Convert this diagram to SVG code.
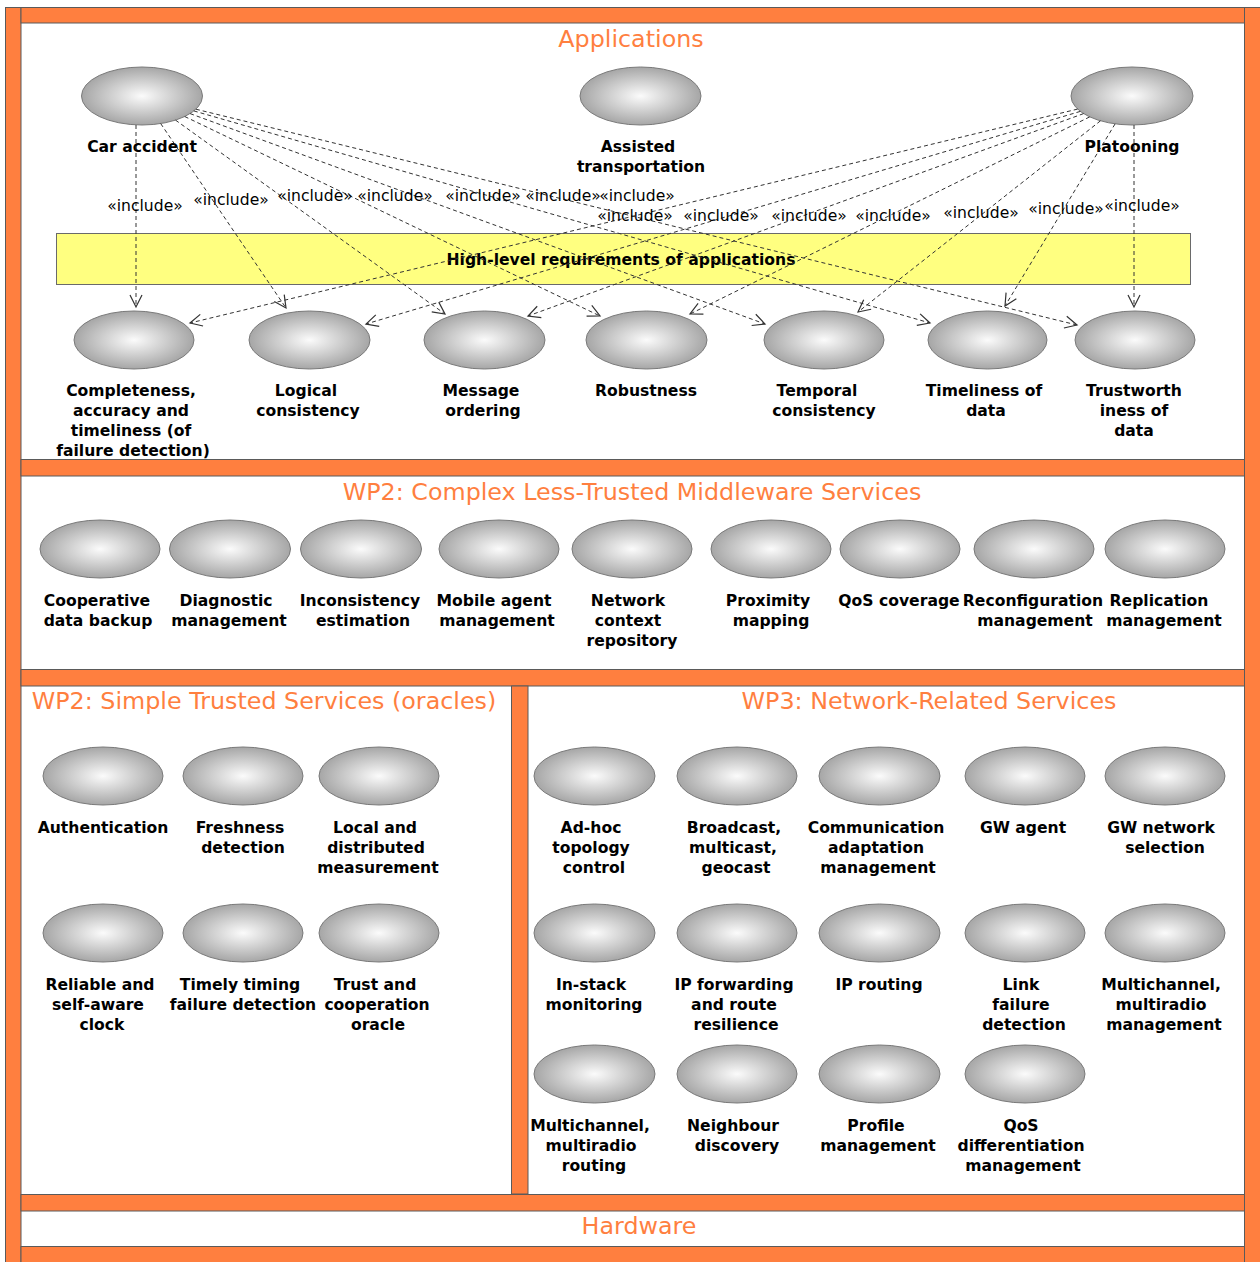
<svg xmlns="http://www.w3.org/2000/svg" width="1260" height="1262" viewBox="0 0 1260 1262">
  <style>
    .bar { fill: #FF7F3F; stroke: #5a5a5a; stroke-width: 1; }
    .title { font-family: "DejaVu Sans", sans-serif; font-size: 23.8px; fill: #FF7F3F; text-anchor: middle; }
    .uc { fill: url(#ucFill); stroke: #7a7a7a; stroke-width: 1; }
    .lbl { font-family: "DejaVu Sans", sans-serif; font-weight: bold; font-size: 15.6px; fill: #000; text-anchor: middle; }
    .inc { font-family: "DejaVu Sans", sans-serif; font-size: 15.6px; fill: #000; text-anchor: middle; }
    .dep { fill: none; stroke: #333; stroke-width: 1; stroke-dasharray: 4 3; marker-end: url(#openArrow); }
  </style>
  <defs>
    <radialGradient id="ucFill" cx="0.5" cy="0.5" r="0.5">
      <stop offset="0" stop-color="#fbfbfb"/>
      <stop offset="1" stop-color="#a6a6a6"/>
    </radialGradient>
    <marker id="openArrow" markerUnits="userSpaceOnUse" markerWidth="14" markerHeight="14" refX="12" refY="6" orient="auto" overflow="visible">
      <path d="M0,0 L12,6 L0,12" fill="none" stroke="#333" stroke-width="1.2" stroke-dasharray="none"/>
    </marker>
  </defs>

  <rect width="1260" height="1262" fill="#fff"/>

  <!-- frame bars -->
  <g id="frame">
    <rect class="bar" x="5.5" y="7.5" width="15.5" height="1260"/>
    <rect class="bar" x="1244.5" y="7.5" width="20" height="1260"/>
    <rect class="bar" x="21" y="7.5" width="1223.5" height="15.5"/>
    <rect class="bar" x="21" y="459.5" width="1223.5" height="16.5"/>
    <rect class="bar" x="21" y="669.5" width="1223.5" height="16.5"/>
    <rect class="bar" x="511.5" y="686" width="16.5" height="508"/>
    <rect class="bar" x="21" y="1194.5" width="1223.5" height="16.5"/>
    <rect class="bar" x="21" y="1246.5" width="1223.5" height="20"/>
  </g>

  <!-- section titles -->
  <g id="titles">
    <text class="title" x="631" y="47">Applications</text>
    <text class="title" x="632" y="500">WP2: Complex Less-Trusted Middleware Services</text>
    <text class="title" x="264" y="709">WP2: Simple Trusted Services (oracles)</text>
    <text class="title" x="929" y="709">WP3: Network-Related Services</text>
    <text class="title" x="639" y="1234">Hardware</text>
  </g>

  <!-- requirements band -->
  <g id="hlr">
    <rect x="56.5" y="233.5" width="1134" height="51" fill="#FFFF80" stroke="#6a6a6a" stroke-width="1"/>
    <text class="lbl" x="621" y="265">High-level requirements of applications</text>
  </g>

  <!-- applications -->
  <g id="car-accident">
    <ellipse class="uc" cx="142" cy="96" rx="60.5" ry="29"/>
    <text class="lbl" x="142" y="152">Car accident</text>
  </g>
  <g id="assisted-transportation">
    <ellipse class="uc" cx="640.5" cy="96" rx="60.5" ry="29"/>
    <text class="lbl"><tspan x="638" y="152">Assisted</tspan><tspan x="641" y="172">transportation</tspan></text>
  </g>
  <g id="platooning">
    <ellipse class="uc" cx="1132" cy="96" rx="61" ry="29"/>
    <text class="lbl" x="1132" y="152">Platooning</text>
  </g>

  <!-- high-level requirements -->
  <g id="completeness">
    <ellipse class="uc" cx="134" cy="340" rx="60" ry="29"/>
    <text class="lbl"><tspan x="131" y="396">Completeness,</tspan><tspan x="131" y="416">accuracy and</tspan><tspan x="131" y="436">timeliness (of</tspan><tspan x="133" y="456">failure detection)</tspan></text>
  </g>
  <g id="logical-consistency">
    <ellipse class="uc" cx="309.5" cy="340" rx="60.5" ry="29"/>
    <text class="lbl"><tspan x="306" y="396">Logical</tspan><tspan x="308" y="416">consistency</tspan></text>
  </g>
  <g id="message-ordering">
    <ellipse class="uc" cx="484.5" cy="340" rx="60.5" ry="29"/>
    <text class="lbl"><tspan x="481" y="396">Message</tspan><tspan x="483" y="416">ordering</tspan></text>
  </g>
  <g id="robustness">
    <ellipse class="uc" cx="646.5" cy="340" rx="60.5" ry="29"/>
    <text class="lbl" x="646" y="396">Robustness</text>
  </g>
  <g id="temporal-consistency">
    <ellipse class="uc" cx="824" cy="340" rx="60" ry="29"/>
    <text class="lbl"><tspan x="817" y="396">Temporal</tspan><tspan x="824" y="416">consistency</tspan></text>
  </g>
  <g id="timeliness-of-data">
    <ellipse class="uc" cx="987.5" cy="340" rx="59.5" ry="29"/>
    <text class="lbl"><tspan x="984" y="396">Timeliness of</tspan><tspan x="986" y="416">data</tspan></text>
  </g>
  <g id="trustworthiness-of-data">
    <ellipse class="uc" cx="1135" cy="340" rx="60" ry="29"/>
    <text class="lbl"><tspan x="1134" y="396">Trustworth</tspan><tspan x="1134" y="416">iness of</tspan><tspan x="1134" y="436">data</tspan></text>
  </g>

  <!-- include dependencies -->
  <g id="connectors">
    <path class="dep" d="M136,125 L136,307"/>
    <path class="dep" d="M160.7,123.6 L286,308"/>
    <path class="dep" d="M175.5,120.1 L445,314"/>
    <path class="dep" d="M184.7,116.5 L600,316"/>
    <path class="dep" d="M190.1,113.6 L765,324"/>
    <path class="dep" d="M193.8,110.9 L930,323"/>
    <path class="dep" d="M195.9,109.2 L1077,325"/>

    <path class="dep" d="M1077.6,109.1 L190,323"/>
    <path class="dep" d="M1080.3,111.4 L366,324"/>
    <path class="dep" d="M1083.6,113.6 L528,316"/>
    <path class="dep" d="M1089.7,116.9 L690,314"/>
    <path class="dep" d="M1100.5,120.8 L858,312"/>
    <path class="dep" d="M1115.1,123.9 L1005,306"/>
    <path class="dep" d="M1134,125 L1134,307"/>

    <text class="inc" x="145" y="211">«include»</text>
    <text class="inc" x="231" y="205">«include»</text>
    <text class="inc" x="315" y="201">«include»</text>
    <text class="inc" x="395" y="201">«include»</text>
    <text class="inc" x="483" y="201">«include»</text>
    <text class="inc" x="563" y="201">«include»</text>
    <text class="inc" x="637" y="201">«include»</text>

    <text class="inc" x="635" y="221">«include»</text>
    <text class="inc" x="721" y="221">«include»</text>
    <text class="inc" x="809" y="221">«include»</text>
    <text class="inc" x="893" y="221">«include»</text>
    <text class="inc" x="981" y="218">«include»</text>
    <text class="inc" x="1066" y="214">«include»</text>
    <text class="inc" x="1142" y="211">«include»</text>
  </g>

  <!-- WP2: complex less-trusted middleware services -->
  <g id="cooperative-data-backup">
    <ellipse class="uc" cx="100" cy="549" rx="60" ry="29"/>
    <text class="lbl"><tspan x="97" y="606">Cooperative</tspan><tspan x="98" y="626">data backup</tspan></text>
  </g>
  <g id="diagnostic-management">
    <ellipse class="uc" cx="230" cy="549" rx="60.5" ry="29"/>
    <text class="lbl"><tspan x="226" y="606">Diagnostic</tspan><tspan x="229" y="626">management</tspan></text>
  </g>
  <g id="inconsistency-estimation">
    <ellipse class="uc" cx="361" cy="549" rx="60.5" ry="29"/>
    <text class="lbl"><tspan x="360" y="606">Inconsistency</tspan><tspan x="363" y="626">estimation</tspan></text>
  </g>
  <g id="mobile-agent-management">
    <ellipse class="uc" cx="499" cy="549" rx="60" ry="29"/>
    <text class="lbl"><tspan x="494" y="606">Mobile agent</tspan><tspan x="497" y="626">management</tspan></text>
  </g>
  <g id="network-context-repository">
    <ellipse class="uc" cx="632" cy="549" rx="60" ry="29"/>
    <text class="lbl"><tspan x="628" y="606">Network</tspan><tspan x="628" y="626">context</tspan><tspan x="632" y="646">repository</tspan></text>
  </g>
  <g id="proximity-mapping">
    <ellipse class="uc" cx="771" cy="549" rx="60" ry="29"/>
    <text class="lbl"><tspan x="768" y="606">Proximity</tspan><tspan x="771" y="626">mapping</tspan></text>
  </g>
  <g id="qos-coverage">
    <ellipse class="uc" cx="900" cy="549" rx="60" ry="29"/>
    <text class="lbl" x="899" y="606">QoS coverage</text>
  </g>
  <g id="reconfiguration-management">
    <ellipse class="uc" cx="1034" cy="549" rx="60" ry="29"/>
    <text class="lbl"><tspan x="1033" y="606">Reconfiguration</tspan><tspan x="1035" y="626">management</tspan></text>
  </g>
  <g id="replication-management">
    <ellipse class="uc" cx="1165" cy="549" rx="60" ry="29"/>
    <text class="lbl"><tspan x="1159" y="606">Replication</tspan><tspan x="1164" y="626">management</tspan></text>
  </g>

  <!-- WP2: simple trusted services (oracles) -->
  <g id="authentication">
    <ellipse class="uc" cx="103" cy="776" rx="60" ry="29"/>
    <text class="lbl" x="103" y="833">Authentication</text>
  </g>
  <g id="freshness-detection">
    <ellipse class="uc" cx="243" cy="776" rx="60" ry="29"/>
    <text class="lbl"><tspan x="240" y="833">Freshness</tspan><tspan x="243" y="853">detection</tspan></text>
  </g>
  <g id="local-distributed-measurement">
    <ellipse class="uc" cx="379" cy="776" rx="60" ry="29"/>
    <text class="lbl"><tspan x="375" y="833">Local and</tspan><tspan x="376" y="853">distributed</tspan><tspan x="378" y="873">measurement</tspan></text>
  </g>
  <g id="reliable-clock">
    <ellipse class="uc" cx="103" cy="933" rx="60" ry="29"/>
    <text class="lbl"><tspan x="100" y="990">Reliable and</tspan><tspan x="98" y="1010">self-aware</tspan><tspan x="102" y="1030">clock</tspan></text>
  </g>
  <g id="timely-timing-failure-detection">
    <ellipse class="uc" cx="243" cy="933" rx="60" ry="29"/>
    <text class="lbl"><tspan x="240" y="990">Timely timing</tspan><tspan x="243" y="1010">failure detection</tspan></text>
  </g>
  <g id="trust-cooperation-oracle">
    <ellipse class="uc" cx="379" cy="933" rx="60" ry="29"/>
    <text class="lbl"><tspan x="375" y="990">Trust and</tspan><tspan x="377" y="1010">cooperation</tspan><tspan x="378" y="1030">oracle</tspan></text>
  </g>

  <!-- WP3: network-related services -->
  <g id="adhoc-topology-control">
    <ellipse class="uc" cx="594.5" cy="776" rx="60.5" ry="29"/>
    <text class="lbl"><tspan x="591" y="833">Ad-hoc</tspan><tspan x="591" y="853">topology</tspan><tspan x="594" y="873">control</tspan></text>
  </g>
  <g id="broadcast-multicast-geocast">
    <ellipse class="uc" cx="737" cy="776" rx="60" ry="29"/>
    <text class="lbl"><tspan x="734" y="833">Broadcast,</tspan><tspan x="733" y="853">multicast,</tspan><tspan x="736" y="873">geocast</tspan></text>
  </g>
  <g id="communication-adaptation-management">
    <ellipse class="uc" cx="879.5" cy="776" rx="60.5" ry="29"/>
    <text class="lbl"><tspan x="876" y="833">Communication</tspan><tspan x="876" y="853">adaptation</tspan><tspan x="878" y="873">management</tspan></text>
  </g>
  <g id="gw-agent">
    <ellipse class="uc" cx="1025" cy="776" rx="60" ry="29"/>
    <text class="lbl" x="1023" y="833">GW agent</text>
  </g>
  <g id="gw-network-selection">
    <ellipse class="uc" cx="1165" cy="776" rx="60" ry="29"/>
    <text class="lbl"><tspan x="1161" y="833">GW network</tspan><tspan x="1165" y="853">selection</tspan></text>
  </g>
  <g id="in-stack-monitoring">
    <ellipse class="uc" cx="594.5" cy="933" rx="60.5" ry="29"/>
    <text class="lbl"><tspan x="591" y="990">In-stack</tspan><tspan x="594" y="1010">monitoring</tspan></text>
  </g>
  <g id="ip-forwarding-route-resilience">
    <ellipse class="uc" cx="737" cy="933" rx="60" ry="29"/>
    <text class="lbl"><tspan x="734" y="990">IP forwarding</tspan><tspan x="734" y="1010">and route</tspan><tspan x="736" y="1030">resilience</tspan></text>
  </g>
  <g id="ip-routing">
    <ellipse class="uc" cx="879.5" cy="933" rx="60.5" ry="29"/>
    <text class="lbl" x="879" y="990">IP routing</text>
  </g>
  <g id="link-failure-detection">
    <ellipse class="uc" cx="1025" cy="933" rx="60" ry="29"/>
    <text class="lbl"><tspan x="1021" y="990">Link</tspan><tspan x="1021" y="1010">failure</tspan><tspan x="1024" y="1030">detection</tspan></text>
  </g>
  <g id="multichannel-multiradio-management">
    <ellipse class="uc" cx="1165" cy="933" rx="60" ry="29"/>
    <text class="lbl"><tspan x="1161" y="990">Multichannel,</tspan><tspan x="1161" y="1010">multiradio</tspan><tspan x="1164" y="1030">management</tspan></text>
  </g>
  <g id="multichannel-multiradio-routing">
    <ellipse class="uc" cx="594.5" cy="1074" rx="60.5" ry="29"/>
    <text class="lbl"><tspan x="590" y="1131">Multichannel,</tspan><tspan x="591" y="1151">multiradio</tspan><tspan x="594" y="1171">routing</tspan></text>
  </g>
  <g id="neighbour-discovery">
    <ellipse class="uc" cx="737" cy="1074" rx="60" ry="29"/>
    <text class="lbl"><tspan x="733" y="1131">Neighbour</tspan><tspan x="737" y="1151">discovery</tspan></text>
  </g>
  <g id="profile-management">
    <ellipse class="uc" cx="879.5" cy="1074" rx="60.5" ry="29"/>
    <text class="lbl"><tspan x="876" y="1131">Profile</tspan><tspan x="878" y="1151">management</tspan></text>
  </g>
  <g id="qos-differentiation-management">
    <ellipse class="uc" cx="1025" cy="1074" rx="60" ry="29"/>
    <text class="lbl"><tspan x="1021" y="1131">QoS</tspan><tspan x="1021" y="1151">differentiation</tspan><tspan x="1023" y="1171">management</tspan></text>
  </g>
</svg>
